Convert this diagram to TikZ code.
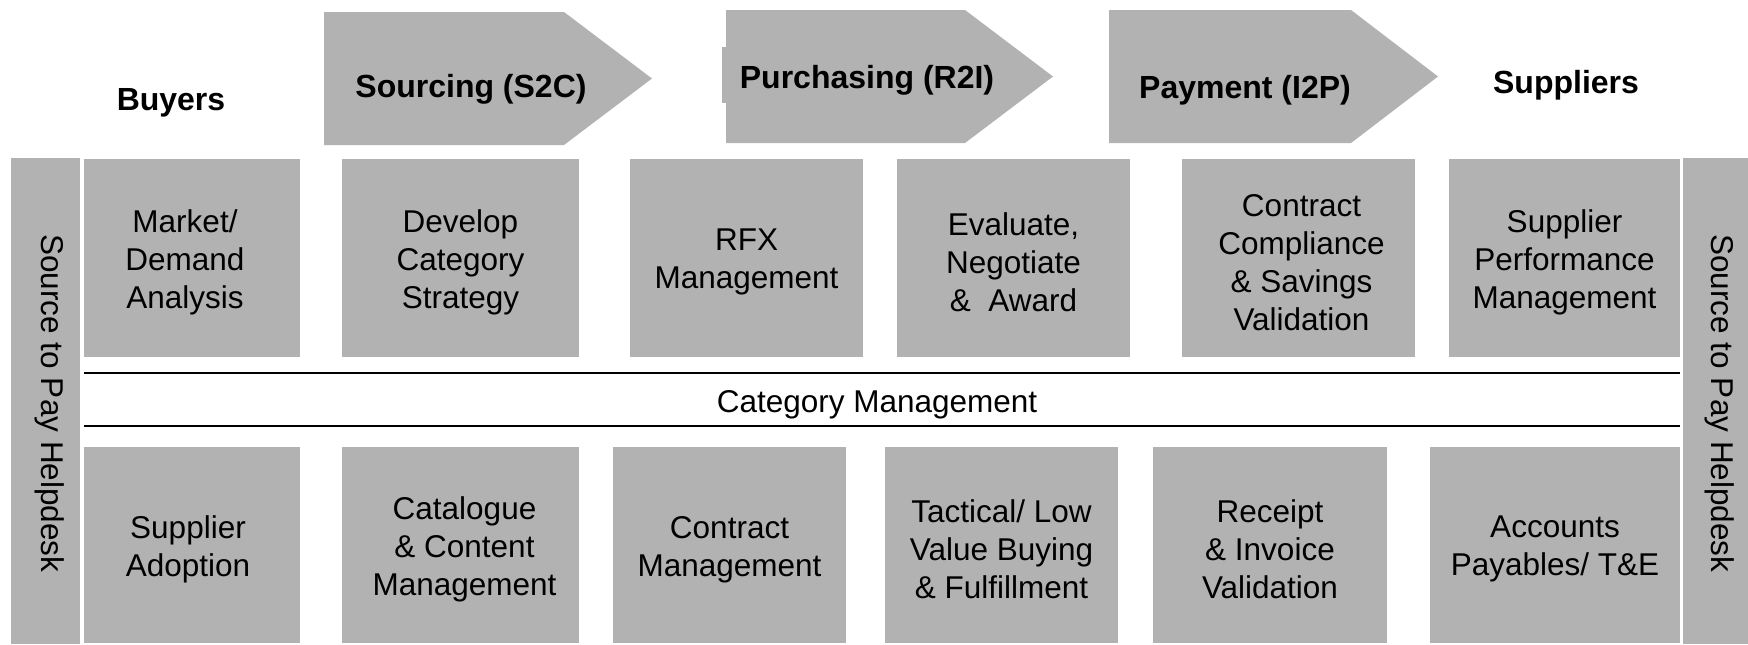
\documentclass[tikz,border=0pt]{standalone}
\usepackage{fontspec}
\setmainfont{Liberation Sans}
\definecolor{boxgray}{RGB}{178,178,178}
\begin{document}
\begin{tikzpicture}[x=0.5pt,y=-0.5pt,
  box/.style={fill=boxgray, draw=none, inner sep=0pt},
  txt/.style={inner sep=0pt, align=center, yshift=-2.2pt,
    font=\fontsize{15.75pt}{19pt}\selectfont},
  head/.style={font=\fontsize{16pt}{19pt}\selectfont\bfseries, inner sep=0pt, yshift=-2.2pt},
  chev/.style={fill=boxgray, draw=none},
  rule/.style={draw=black, line width=0.75pt}]
\useasboundingbox (0,0) rectangle (1748,644);
% header chevrons
\fill[chev] (324,12) -- (564,12) -- (652,78.5) -- (564,145) -- (324,145) -- cycle;
\fill[chev] (726,10) -- (965,10) -- (1053,76.5) -- (965,143) -- (726,143) -- cycle;
\fill[chev] (722,47) rectangle (727,103);
\fill[chev] (1109,10) -- (1351,10) -- (1438,76.5) -- (1351,143) -- (1109,143) -- cycle;
\node[head] (buyers) at (171,98) {Buyers};
\node[head] (s2c) at (471,85) {Sourcing (S2C)};
\node[head] (r2i) at (867,76) {Purchasing (R2I)};
\node[head] (i2p) at (1245,86) {Payment (I2P)};
\node[head] (suppliers) at (1566,81) {Suppliers};
% side bars
\node[box, minimum width=34.5pt, minimum height=243pt] (lbar) at (45.5,401) {};
\node[txt, rotate=-90, yshift=2.2pt, xshift=-1pt] (ltext) at (lbar.center) {Source to Pay Helpdesk};
\node[box, minimum width=32.5pt, minimum height=243pt] (rbar) at (1715.5,401) {};
\node[txt, rotate=-90, yshift=2.2pt, xshift=-1pt] (rtext) at (rbar.center) {Source to Pay Helpdesk};
% top row
\node[box, minimum width=108pt, minimum height=99pt] (t1) at (192,258) {};
\node[box, minimum width=118.5pt, minimum height=99pt] (t2) at (460.5,258) {};
\node[box, minimum width=116.5pt, minimum height=99pt] (t3) at (746.5,258) {};
\node[box, minimum width=116.5pt, minimum height=99pt] (t4) at (1013.5,258) {};
\node[box, minimum width=116.5pt, minimum height=99pt] (t5) at (1298.5,258) {};
\node[box, minimum width=115.5pt, minimum height=99pt] (t6) at (1564.5,258) {};
\node[txt, xshift=-3.5pt] (t1t) at (t1.center) {Market/\\Demand\\Analysis};
\node[txt] (t2t) at (t2.center) {Develop\\Category\\Strategy};
\node[txt] (t3t) at (t3.center) {RFX\\Management};
\node[txt] (t4t) at (t4.center) {Evaluate,\\Negotiate\\\&~~Award};
\node[txt, xshift=1.5pt] (t5t) at (t5.center) {Contract\\Compliance\\\& Savings\\Validation};
\node[txt] (t6t) at (t6.center) {Supplier\\Performance\\Management};
% category management band
\coordinate (l1a) at (84,373);
\coordinate (l1b) at (1680,373);
\coordinate (l2a) at (84,426);
\coordinate (l2b) at (1680,426);
\draw[rule] (l1a) -- (l1b);
\draw[rule] (l2a) -- (l2b);
\node[txt] (cat) at (877,400) {Category Management};
% bottom row
\node[box, minimum width=108pt, minimum height=98pt] (b1) at (192,545) {};
\node[box, minimum width=118.5pt, minimum height=98pt] (b2) at (460.5,545) {};
\node[box, minimum width=116.5pt, minimum height=98pt] (b3) at (729.5,545) {};
\node[box, minimum width=116.5pt, minimum height=98pt] (b4) at (1001.5,545) {};
\node[box, minimum width=117pt, minimum height=98pt] (b5) at (1270,545) {};
\node[box, minimum width=125pt, minimum height=98pt] (b6) at (1555,545) {};
\node[txt, xshift=-2pt] (b1t) at (b1.center) {Supplier\\Adoption};
\node[txt, xshift=2pt] (b2t) at (b2.center) {Catalogue\\\& Content\\Management};
\node[txt] (b3t) at (b3.center) {Contract\\Management};
\node[txt] (b4t) at (b4.center) {Tactical/ Low\\Value Buying\\\& Fulfillment};
\node[txt] (b5t) at (b5.center) {Receipt\\\& Invoice\\Validation};
\node[txt] (b6t) at (b6.center) {Accounts\\Payables/ T\&E};
\end{tikzpicture}
\end{document}
